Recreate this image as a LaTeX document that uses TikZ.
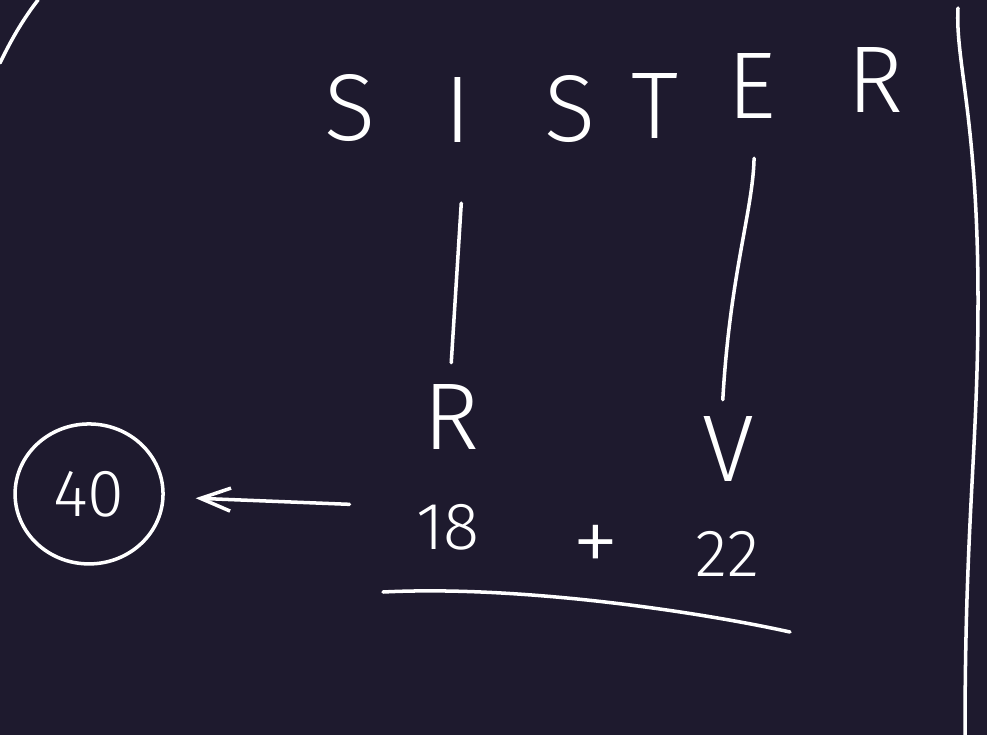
\documentclass[tikz,border=0pt]{standalone}
\usepackage{fontspec}
\setmainfont{Fira Sans}[UprightFont=* Light]
\usepackage{tikz}
\usetikzlibrary{shapes,arrows.meta,positioning,calc}
\definecolor{board}{RGB}{30,26,46}

\begin{document}
\begin{tikzpicture}[x=0.02cm, y=-0.02cm, node distance=2.1cm, white, line width=2pt, line cap=round,
    letter/.style={inner sep=0pt, font=\fontsize{54}{60}\selectfont},
    num/.style={inner sep=0pt, font=\fontsize{38}{44}\selectfont}]
    % Board
    \fill[board] (0,0) rectangle (987,735);
    \useasboundingbox (0,0) rectangle (987,735);
    \draw (0,63) .. controls (12,38) and (24,18) .. (38,0);
    \draw (958,8) .. controls (955,60) and (978,120) .. (978,300)
          .. controls (978,450) and (965,520) .. (965,735);

    % Word
    \node[letter] (s1) at (350,108) {S};
    \node[letter, right of=s1, xshift=0.06cm, yshift=-0.04cm] (i) {I};
    \node[letter, right of=i, xshift=0.14cm, yshift=0.02cm] (s2) {S};
    \node[letter, right of=s2, xshift=-0.4cm, yshift=0.06cm] (t) {T};
    \node[letter, right of=t, xshift=-0.16cm, yshift=0.4cm] (e) {E};
    \node[letter, right of=e, xshift=0.38cm, yshift=0.12cm] (r1) {R};

    % Letters below
    \node[letter, below of=i, node distance=6.14cm, xshift=-0.12cm] (r) {R};
    \node[letter, below of=e, node distance=7.26cm, xshift=-0.48cm] (v) {V};

    % Sum
    \node[num, below of=r, node distance=2.2cm, xshift=-0.08cm] (eighteen) {18};
    \node[letter, right of=eighteen, node distance=2.95cm, yshift=-0.44cm] (plus) {+};
    \node[num, right of=plus, node distance=2.65cm, yshift=-0.1cm] (twentytwo) {22};
    \draw (383,592) .. controls (520,585) and (700,612) .. (790,632);

    % Result
    \node[num, ellipse, draw, minimum width=2.96cm, minimum height=2.8cm,
          left of=eighteen, node distance=7.18cm, yshift=0.66cm] (forty) {40};

    % Connections
    \draw[shorten <=1.18cm, shorten >=0.4cm] ([xshift=0.14cm]i.south) -- ([xshift=-0.04cm]r.north);
    \draw[shorten <=0.76cm, shorten >=0.3cm] ([xshift=0.06cm]e.south)
          .. controls +(-2,90) and +(8,-140) .. ([xshift=-0.12cm]v.north);
    \draw[-{Straight Barb[length=0.6cm, width=0.46cm]}, shorten <=1.3cm, shorten >=0.62cm]
          ([yshift=0.4cm]eighteen.west) -- (forty);
\end{tikzpicture}
\end{document}
